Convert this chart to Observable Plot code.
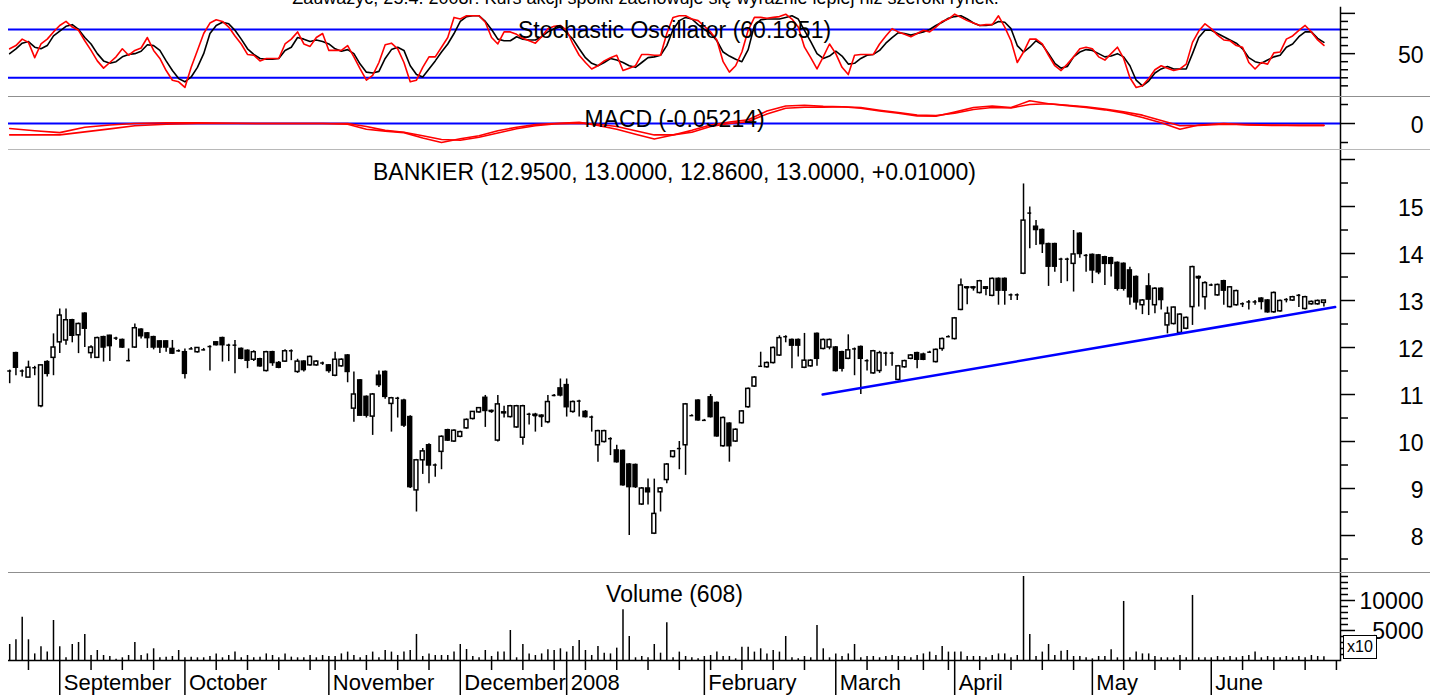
<!DOCTYPE html>
<html><head><meta charset="utf-8">
<script src="https://cdn.jsdelivr.net/npm/d3@7"></script>
<script src="https://cdn.jsdelivr.net/npm/@observablehq/plot@0.6"></script>
<style>
body{margin:0;background:#fff;font-family:"Liberation Sans",Arial,sans-serif;}
#wrap{position:relative;width:1456px;height:695px;overflow:hidden;background:#fff;}
.panel{position:absolute;left:0;}
.sep{position:absolute;left:8px;width:1422px;height:0;}
#x10{position:absolute;left:1343px;top:635px;width:32px;height:22px;border:1.5px solid #000;background:#fff;font-size:16px;line-height:22px;text-align:center;}
</style></head><body><div id="wrap"></div>
<script>
// ---------- DATA ----------
const topTitle = "Zauważyć, 25.4. 2008r: Kurs akcji spółki zachowuje się wyraźnie lepiej niż szeroki rynek.";
const stochTitle = "Stochastic Oscillator (60.1851)";
const macdTitle = "MACD (-0.05214)";
const priceTitle = "BANKIER (12.9500, 13.0000, 12.8600, 13.0000, +0.01000)";
const volumeTitle = "Volume (608)";

const open = [11.50,11.88,11.50,11.36,11.57,10.75,11.69,11.78,12.11,12.15,
12.58,12.26,12.72,11.88,11.78,12.22,12.25,12.20,12.16,11.72,
12.00,12.38,12.30,12.22,12.13,12.13,11.97,11.93,11.90,11.97,
11.90,11.95,12.02,12.11,12.20,12.05,12.05,11.97,11.93,11.74,
11.75,11.50,11.90,11.67,11.70,11.93,11.48,11.70,11.62,11.62,
11.67,11.62,11.40,11.60,11.83,10.70,11.30,10.95,10.53,11.40,
11.48,10.80,10.92,10.87,10.52,8.96,9.60,9.92,9.50,9.78,
10.24,10.00,10.10,10.28,10.48,10.62,10.93,10.65,10.02,10.60,
10.52,10.30,10.08,10.58,10.57,10.55,10.41,10.98,11.13,11.20,
10.63,10.86,10.63,10.52,9.92,9.99,10.06,9.81,9.80,9.51,
9.50,8.66,9.00,8.04,8.92,9.18,9.67,9.85,9.92,10.55,
10.87,10.45,10.94,10.82,9.90,10.38,10.00,10.39,10.73,11.17,
11.60,11.58,11.67,11.83,12.23,12.16,12.16,11.57,11.60,12.29,
11.97,12.00,12.00,11.90,11.76,11.97,12.01,11.72,11.45,11.50,
11.88,11.88,11.31,11.58,11.76,11.88,11.85,11.90,11.69,11.97,
12.23,12.18,12.80,13.28,13.28,13.16,13.25,13.10,13.46,13.46,
13.12,13.12,13.57,14.86,14.57,14.50,14.20,14.20,13.88,13.88,
13.78,14.42,13.96,13.97,13.96,13.92,13.90,13.80,13.78,13.64,
13.50,12.90,13.30,12.90,13.25,12.47,12.50,12.31,12.40,12.86,
13.50,13.07,13.33,13.11,13.41,12.86,12.90,12.93,12.97,12.97,
13.04,13.00,12.75,12.77,13.02,13.00,13.11,12.82,12.92,12.92,12.95];
const high = [11.52,11.90,11.52,11.71,11.60,11.62,11.72,12.29,12.82,12.82,
12.60,12.52,12.74,12.04,12.22,12.24,12.26,12.22,12.18,11.97,
12.50,12.40,12.32,12.24,12.14,12.14,12.15,11.95,11.97,12.00,
12.00,11.98,12.04,12.12,12.22,12.07,12.15,11.99,11.95,11.93,
11.77,11.92,11.92,11.70,11.95,11.95,11.75,11.72,11.82,11.72,
11.69,11.64,11.90,11.76,11.85,11.48,11.32,10.97,11.02,11.50,
11.50,10.94,10.94,10.90,10.55,9.62,9.85,9.95,9.52,10.12,
10.26,10.25,10.22,10.48,10.64,10.72,10.98,10.67,10.98,10.75,
10.77,10.77,10.77,10.60,10.60,10.57,10.98,11.00,11.33,11.33,
10.86,10.88,10.66,10.54,10.24,10.24,10.08,9.92,9.82,9.53,
9.52,9.02,9.20,9.20,9.02,9.53,9.81,10.00,10.81,10.57,
10.89,10.47,11.00,10.84,10.52,10.40,10.27,10.66,11.14,11.38,
11.90,11.69,12.01,12.25,12.25,12.18,12.18,12.30,11.74,12.31,
12.18,12.18,12.02,11.92,12.27,11.99,12.03,11.74,11.94,11.92,
11.90,11.90,11.62,11.73,11.85,11.90,11.88,11.92,11.97,12.20,
12.25,12.64,13.46,13.30,13.30,13.43,13.30,13.48,13.48,13.48,
13.14,13.14,15.48,14.99,14.70,14.52,14.22,14.22,13.90,13.90,
14.49,14.44,13.98,13.99,13.98,13.94,13.92,13.82,13.80,13.71,
13.52,13.02,13.57,13.27,13.27,12.86,12.86,12.72,12.65,13.73,
13.52,13.40,13.35,13.35,13.43,13.30,13.22,12.95,13.00,13.00,
13.06,13.02,13.18,13.01,13.04,13.09,13.13,13.09,12.99,13.01,13.00];
const low = [11.23,11.40,11.37,11.36,11.40,10.72,11.37,11.40,11.87,12.05,
12.10,11.87,12.00,11.76,11.78,11.69,11.70,12.15,11.98,11.70,
11.98,12.18,11.98,11.95,11.87,11.90,11.85,11.90,11.33,11.95,
11.88,11.93,11.50,12.03,11.69,11.70,11.44,11.74,11.55,11.70,
11.58,11.48,11.60,11.55,11.68,11.72,11.45,11.48,11.60,11.60,
11.62,11.45,11.38,11.58,11.25,10.41,10.55,10.50,10.13,11.15,
10.90,10.20,10.50,10.30,9.00,8.50,9.30,9.10,9.24,9.40,
10.00,9.98,10.08,10.26,10.46,10.60,10.30,10.60,9.99,10.50,
10.50,10.28,9.92,10.35,10.20,10.30,10.38,10.95,10.95,10.52,
10.60,10.52,10.50,10.20,9.56,9.97,9.70,9.54,9.05,8.00,
9.00,8.64,8.65,8.02,8.50,9.10,9.65,9.40,9.28,10.53,
10.43,10.43,10.50,10.09,9.88,9.56,9.98,10.37,10.71,11.15,
11.58,11.56,11.65,11.81,12.10,11.55,11.80,11.55,11.58,11.60,
11.95,11.95,11.48,11.48,11.74,11.40,11.00,11.50,11.43,11.45,
11.60,11.60,11.29,11.56,11.74,11.55,11.72,11.88,11.67,11.92,
12.21,12.16,12.78,12.91,13.20,13.14,13.10,13.08,12.90,12.90,
13.00,13.00,13.55,14.10,14.17,14.00,13.30,13.60,13.36,13.40,
13.18,13.90,13.60,13.36,13.55,13.32,13.50,13.20,13.20,12.90,
12.80,12.70,12.68,12.72,12.80,12.29,12.48,12.29,12.38,12.47,
12.86,12.80,13.30,13.09,12.90,12.84,12.88,12.85,12.80,12.90,
12.80,12.73,12.73,12.75,12.95,12.98,12.85,12.80,12.90,12.90,12.86];
const close = [11.50,11.57,11.50,11.57,11.57,11.62,11.44,12.00,12.68,12.58,
12.25,12.50,12.40,12.00,12.20,12.00,12.03,12.20,12.00,11.72,
12.41,12.24,12.20,12.00,12.00,12.00,11.87,11.93,11.44,11.97,
11.99,11.95,12.02,12.05,12.05,12.05,12.05,11.76,11.72,11.90,
11.60,11.90,11.67,11.57,11.92,11.93,11.70,11.52,11.80,11.70,
11.67,11.50,11.74,11.74,11.48,11.00,10.55,10.55,11.00,11.20,
10.95,10.92,10.92,10.34,9.03,9.60,9.79,9.49,9.50,10.10,
10.02,10.23,10.20,10.46,10.63,10.71,10.65,10.64,10.79,10.62,
10.75,10.75,10.75,10.58,10.55,10.53,10.84,10.98,10.98,10.73,
10.84,10.86,10.52,10.52,10.22,10.22,10.06,9.56,9.07,9.03,
9.03,9.00,8.92,8.46,9.00,9.51,9.79,9.85,10.79,10.55,
10.45,10.45,10.52,10.11,10.50,9.90,10.25,10.64,11.12,11.36,
11.60,11.67,11.99,12.20,12.23,12.04,12.04,11.72,11.72,11.76,
12.16,12.16,11.50,11.55,11.94,11.97,11.76,11.72,11.92,11.88,
11.88,11.88,11.60,11.71,11.83,11.74,11.74,11.90,11.95,12.18,
12.23,12.62,13.32,13.27,13.27,13.41,13.28,13.46,13.21,13.21,
13.12,13.12,14.70,14.86,14.50,14.20,13.72,13.72,13.88,13.88,
13.98,13.99,13.96,13.64,13.60,13.78,13.78,13.25,13.25,13.07,
12.96,13.00,13.02,13.25,13.01,12.72,12.85,12.70,12.63,13.71,
13.48,13.37,13.33,13.33,13.21,13.28,13.20,12.93,12.97,12.97,
12.97,12.75,13.16,12.99,13.02,13.07,13.11,13.07,12.97,12.99,13.00];
const volume = [2670,3450,7200,3450,1100,2300,1400,6670,2300,450,
2670,3000,4340,830,1670,830,670,220,450,830,
3000,830,1100,1950,450,560,670,1670,450,560,
450,450,670,1100,450,830,1400,450,830,450,
560,1100,830,450,1100,560,450,450,830,450,
830,670,670,1100,1400,830,450,830,1400,450,
1670,1400,830,1400,1670,4340,670,1100,830,830,
830,1400,2670,1830,670,450,1670,670,1400,1400,
5000,450,2670,1100,830,1100,1780,1670,1950,1400,
2330,3340,1670,830,2330,1220,1100,2060,8450,4000,
450,670,450,2670,1220,6280,450,1400,670,450,
280,670,830,1400,670,670,280,2220,2220,1400,
1950,1100,1670,1400,4000,450,280,670,450,5840,
1950,450,1100,670,1100,2670,450,670,670,450,
670,830,670,670,450,830,1100,1400,830,2330,
1400,1400,1400,670,670,670,450,830,1100,1100,
450,830,14000,4340,670,1400,2670,830,1560,1670,
670,670,450,280,670,670,1780,450,9840,450,
1400,1100,1100,670,450,450,450,830,450,10840,
450,450,450,670,450,670,450,670,830,1400,
450,670,450,450,670,450,670,450,830,670,608];
const stochK = [56,60,68,64,45,62,68,77,85,90,
83,79,66,54,41,32,39,46,56,48,
54,57,70,54,44,29,17,15,8,33,
54,75,88,92,90,83,72,62,49,48,
41,44,44,44,62,68,77,62,59,70,
75,54,54,54,60,46,31,17,23,39,
61,63,56,39,15,17,33,46,46,58,
70,95,93,97,97,97,89,70,62,77,
77,74,69,66,63,71,81,84,85,79,
62,48,39,31,35,41,45,48,29,32,
35,49,49,48,48,75,95,97,97,93,
91,84,77,67,40,27,35,52,79,95,
95,94,95,96,99,93,83,58,45,31,
46,62,50,33,24,48,49,49,49,62,
72,81,77,74,71,75,79,77,83,90,
93,99,95,91,88,85,86,86,97,83,
66,39,52,68,68,62,48,35,29,37,
46,56,58,56,46,42,50,58,44,20,
8,10,19,30,35,32,29,31,37,64,
78,87,81,73,67,66,60,58,39,31,
39,37,51,52,68,72,79,85,77,67,60.19];
const stochD = [50,56,63,65,58,56,60,72,78,84,
86,80,70,62,50,41,38,40,46,49,
50,53,61,60,54,41,29,19,15,21,
33,50,75,85,89,87,79,68,56,49,
44,43,43,44,54,58,70,68,65,67,
65,62,56,53,55,50,37,27,26,28,
44,55,58,54,35,24,21,31,41,52,
62,75,90,96,97,97,90,80,68,66,
66,71,68,67,67,71,77,81,83,76,
68,56,45,38,35,39,44,42,39,35,
33,39,45,46,48,60,80,91,95,93,
86,80,75,66,52,47,43,40,55,85,
92,93,93,93,95,97,93,79,65,50,
44,47,53,47,37,38,44,48,49,54,
63,70,76,75,73,75,77,80,85,89,
94,96,97,93,88,85,85,86,90,89,
81,60,52,58,66,61,50,38,32,34,
46,52,55,54,50,46,47,50,46,35,
17,10,16,26,31,34,31,31,31,50,
70,79,79,75,71,67,63,56,45,40,
38,42,46,48,58,62,71,77,77,69,64];
const macdDays = [0,4,8,12,16,20,25,30,40,50,54,57,60,63,66,69,72,75,78,81,84,87,91,94,97,100,103,106,109,112,115,118,121,124,127,130,133,136,139,142,145,148,151,154,157,160,163,166,169,172,175,178,181,184,187,190,194,198,202,206,210];
const macdLine = [-0.13,-0.19,-0.24,-0.10,-0.04,0.00,0.02,0.02,0.00,0.00,-0.02,-0.15,-0.20,-0.24,-0.38,-0.50,-0.40,-0.32,-0.19,-0.10,-0.03,0.00,0.03,-0.05,-0.15,-0.28,-0.41,-0.30,-0.18,-0.04,0.04,0.10,0.33,0.46,0.48,0.45,0.44,0.40,0.33,0.27,0.20,0.19,0.30,0.42,0.46,0.42,0.60,0.52,0.47,0.42,0.36,0.28,0.16,0.02,-0.15,-0.04,0.00,-0.04,-0.05,-0.05,-0.05];
const macdSignal = [-0.30,-0.30,-0.30,-0.22,-0.14,-0.06,-0.02,0.00,0.00,0.00,0.00,-0.08,-0.18,-0.23,-0.32,-0.42,-0.44,-0.36,-0.25,-0.14,-0.06,-0.01,0.01,-0.02,-0.08,-0.19,-0.30,-0.30,-0.23,-0.08,0.00,0.05,0.25,0.40,0.43,0.43,0.44,0.42,0.35,0.29,0.22,0.21,0.27,0.37,0.42,0.41,0.50,0.52,0.48,0.44,0.38,0.31,0.22,0.08,-0.06,-0.05,-0.02,-0.03,-0.04,-0.05,-0.05];
const trendDays = [129.9, 211.8];
const trendPrices = [11.0, 12.86];
const monthDays = [8,28,51,72,89,111,132,151,173,192];
const monthLabels = ["September","October","November","December","2008","February","March","April","May","June"];
const weekDays = [3,13,18,23,33,38,43,48,52,57,62,67,77,82,87,92,97,102,107,112,117,122,127,137,142,146,150,155,160,165,170,178,183,187,197,202,207,212];
const stochTicks = [10,20,30,40,60,70,80,90], stochMajor = [50,100], stochLabels = [50];
const macdTicks = [-0.5,0.5], macdMajor = [0], macdLabels = [0];
const priceTicks = [7.5,8.5,9.5,10.5,11.5,12.5,13.5,14.5,15.5], priceMajor = [8,9,10,11,12,13,14,15,16], priceLabels = [8,9,10,11,12,13,14,15];
const volTicks = [1000,2000,3000,4000,6000,7000,8000,9000,11000,12000,13000,14000], volMajor = [5000,10000], volLabels = [5000,10000];

// ---------- CHART ----------
const FONT = '"Liberation Sans", Arial, Helvetica, sans-serif';
const xDomain = [-0.19, 212.65];
const days = d3.range(open.length);
const candles = days.map(i => ({i, o: open[i], h: high[i], l: low[i], c: close[i]}));
const up = candles.filter(d => d.c >= d.o), down = candles.filter(d => d.c < d.o);
const flat = candles.filter(d => Math.abs(d.c - d.o) < 0.04);
const HW = 0.31;

function rightAxis(minor, major, labels, dy) {
  return [
    Plot.frame({anchor: "right", stroke: "#000", strokeWidth: 1.5}),
    Plot.axisY(minor, {anchor: "right", tickSize: 7, strokeWidth: 1.5, tickFormat: () => "", label: null}),
    Plot.axisY(major, {anchor: "right", tickSize: 14, strokeWidth: 1.5, tickFormat: () => "", label: null}),
    Plot.text(labels, {y: d => d, text: d => String(d), frameAnchor: "right", dx: 83, dy, textAnchor: "end", lineAnchor: "middle", fontSize: 23, fill: "#000"})
  ];
}
function panel(height, mt, mb, yDomain, marks) {
  return Plot.plot({
    width: 1456, height, marginLeft: 8, marginRight: 116, marginTop: mt, marginBottom: mb,
    x: {domain: xDomain, axis: null}, y: {domain: yDomain, axis: null},
    style: {fontFamily: FONT, fontSize: "23px", color: "#000", background: "transparent"},
    marks
  });
}
const title = (t, dy, dx = 0, fs = 23) => Plot.text([t], {text: d => d, frameAnchor: "top", lineAnchor: "bottom", dy, dx, fontSize: fs, fill: "#000"});

const stoch = panel(96, 7, 0, [-3.23, 107.3], [
  Plot.ruleY([20, 80], {stroke: "#0000ff", strokeWidth: 2}),
  Plot.line(days, {x: d => d, y: d => stochD[d], stroke: "#000", strokeWidth: 1.6}),
  Plot.line(days, {x: d => d, y: d => stochK[d], stroke: "#ff0000", strokeWidth: 1.6}),
  title(topTitle, -4, -29, 18),
  title(stochTitle, 30),
  ...rightAxis(stochTicks, stochMajor, stochLabels, 2)
]);

const macd = panel(53, 0, 0, [-0.684, 0.711], [
  Plot.ruleY([0], {stroke: "#0000ff", strokeWidth: 2}),
  Plot.line(macdDays, {x: d => d, y: (d, k) => macdSignal[k], stroke: "#ff0000", strokeWidth: 1.6}),
  Plot.line(macdDays, {x: d => d, y: (d, k) => macdLine[k], stroke: "#ff0000", strokeWidth: 1.6}),
  title(macdTitle, 30),
  ...rightAxis(macdTicks, macdMajor, macdLabels, 2)
]);

const price = panel(423, 0, 0, [7.213, 16.213], [
  Plot.ruleX(candles, {x: "i", y1: "l", y2: "h", stroke: "#000", strokeWidth: 1.5}),
  Plot.rect(up, {x1: d => d.i - HW, x2: d => d.i + HW, y1: "o", y2: "c", fill: "#fff", stroke: "#000", strokeWidth: 1.5}),
  Plot.rect(down, {x1: d => d.i - HW, x2: d => d.i + HW, y1: "o", y2: "c", fill: "#000", stroke: "#000", strokeWidth: 1.5}),
  Plot.ruleY(flat, {y: "c", x1: d => d.i - HW, x2: d => d.i + HW, stroke: "#000", strokeWidth: 1.5}),
  Plot.line(trendDays, {x: d => d, y: (d, k) => trendPrices[k], stroke: "#0000ff", strokeWidth: 2.5}),
  title(priceTitle, 30),
  ...rightAxis(priceTicks, priceMajor, priceLabels, 2)
]);

const vol = panel(123, 0, 35, [0, 14667], [
  Plot.ruleX(days, {x: d => d, y1: 0, y2: d => volume[d], stroke: "#000", strokeWidth: 1.5}),
  Plot.ruleY([0], {stroke: "#000", strokeWidth: 1.5}),
  Plot.axisX(weekDays, {anchor: "bottom", tickSize: 10, strokeWidth: 1.5, tickFormat: () => "", label: null}),
  Plot.axisX(monthDays, {anchor: "bottom", tickSize: 35, strokeWidth: 1.5, tickFormat: () => "", label: null}),
  Plot.axisX(monthDays, {anchor: "bottom", tickSize: 0, tickPadding: 14, textAnchor: "start", dx: 4, fontSize: 22, tickFormat: d => monthLabels[monthDays.indexOf(d)], label: null}),
  title(volumeTitle, 29),
  ...rightAxis(volTicks, volMajor, volLabels, 1)
]);

const wrap = document.getElementById("wrap");
[[stoch, 0], [macd, 96], [price, 149], [vol, 572]].forEach(([svg, top]) => {
  const div = document.createElement("div");
  div.className = "panel"; div.style.top = top + "px";
  div.appendChild(svg); wrap.appendChild(div);
});
[[96, "#8f8f8f"], [149, "#b8b8b8"], [572, "#8f8f8f"]].forEach(([top, col]) => {
  const s = document.createElement("div");
  s.className = "sep"; s.style.top = top + "px"; s.style.borderTop = "1px solid " + col;
  wrap.appendChild(s);
});
const box = document.createElement("div");
box.id = "x10"; box.textContent = "x10"; wrap.appendChild(box);
</script>
</body></html>
